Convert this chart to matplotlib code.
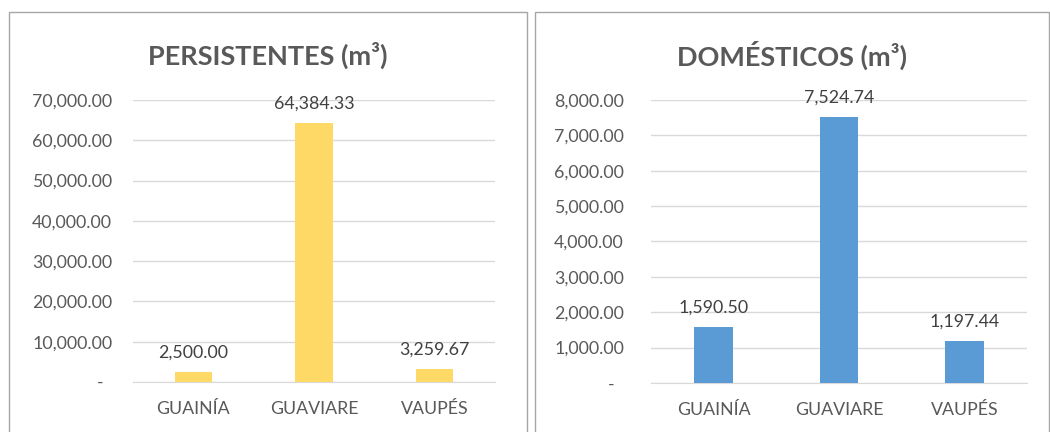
import matplotlib
matplotlib.use("Agg")
import matplotlib.pyplot as plt
from matplotlib.patches import Rectangle
from matplotlib.ticker import FuncFormatter, MultipleLocator

categories = ["GUAINÍA", "GUAVIARE", "VAUPÉS"]
persistentes = [2500.00, 64384.33, 3259.67]
domesticos = [1590.50, 7524.74, 1197.44]

plt.rcParams["font.family"] = ["Lato", "DejaVu Sans"]

fig = plt.figure(figsize=(10.5, 4.32), dpi=100)
W, H = 1050, 432

def px_axes(x0, x1, y_top, y_bot):
    return fig.add_axes([x0 / W, 1 - y_bot / H, (x1 - x0) / W, (y_bot - y_top) / H])

# panel frames
for (x0, x1) in [(9, 527), (535, 1049)]:
    fig.patches.append(Rectangle((x0 / W, -0.01), (x1 - x0) / W, 1 - 12 / H + 0.01,
                                 transform=fig.transFigure, fill=False,
                                 edgecolor="#a6a6a6", linewidth=1.0))

def fmt(v, _):
    return "-  " if abs(v) < 1e-9 else f"{v:,.2f}"

def draw(ax, values, color, ymax, step, title, title_x, ypad):
    x = range(len(categories))
    bars = ax.bar(x, values, width=0.31, color=color, zorder=3)
    ax.set_xlim(-0.5, len(categories) - 0.5)
    ax.set_ylim(0, ymax)
    ax.yaxis.set_major_locator(MultipleLocator(step))
    ax.yaxis.set_major_formatter(FuncFormatter(fmt))
    ax.set_xticks(list(x))
    ax.set_xticklabels(categories)
    ax.grid(axis="y", color="#d9d9d9", linewidth=1.0, zorder=0)
    for s in ["top", "right", "left"]:
        ax.spines[s].set_visible(False)
    ax.spines["bottom"].set_color("#d9d9d9")
    ax.tick_params(axis="both", length=0, colors="#595959", labelsize=12.8)
    ax.tick_params(axis="y", pad=ypad)
    ax.tick_params(axis="x", pad=14)
    for b, v in zip(bars, values):
        ax.annotate(f"{v:,.2f}", (b.get_x() + b.get_width() / 2, v),
                    xytext=(0, 8), textcoords="offset points",
                    ha="center", va="bottom", fontsize=12.8, color="#404040")
    fig.text(title_x / W, 1 - 55 / H, title, ha="center", va="center",
             fontsize=19.5, fontweight="bold", color="#595959")

ax1 = px_axes(133, 495, 100, 382)
draw(ax1, persistentes, "#FFD966", 70000, 10000, "PERSISTENTES (m³)", 268, 15)

ax2 = px_axes(651, 1027, 100, 383)
draw(ax2, domesticos, "#5B9BD5", 8000, 1000, "DOMÉSTICOS (m³)", 792, 19.5)

fig.savefig("out.png", dpi=100)
